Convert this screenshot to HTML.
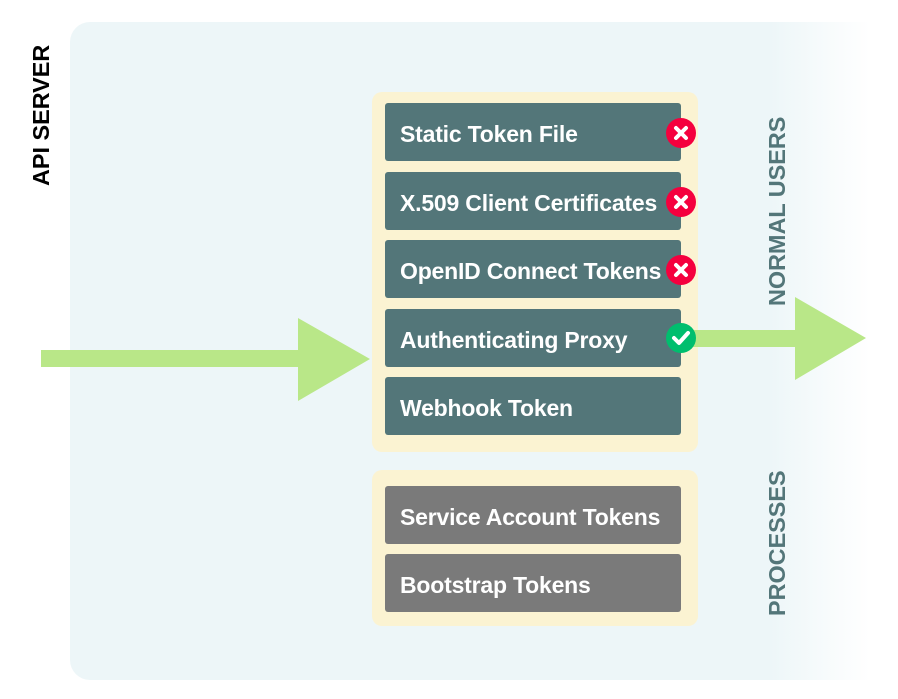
<!DOCTYPE html>
<html><head><meta charset="utf-8"><style>
html,body{margin:0;padding:0;background:#fff;}
body{width:898px;height:699px;position:relative;overflow:hidden;font-family:"Liberation Sans",sans-serif;}
.panel{position:absolute;left:70px;top:22px;width:828px;height:658px;border-radius:20px;background:linear-gradient(to right,#edf6f8 0,#edf6f8 700px,#ffffff 800px);}
.ybox{position:absolute;left:372px;width:326px;background:#fbf3d2;border-radius:10px;}
.b{position:absolute;left:385px;width:296px;height:58px;border-radius:3px;color:#fff;font-weight:bold;font-size:23px;letter-spacing:-0.2px;line-height:62px;text-indent:15px;white-space:nowrap;}
.t{background:#537679;}
.g{background:#7a7a7a;}
.vt{position:absolute;font-weight:bold;font-size:23.4px;white-space:nowrap;transform:rotate(-90deg);transform-origin:0 0;}
</style></head><body>
<div class="panel"></div>
<div class="ybox" style="top:92px;height:360px"></div>
<div class="ybox" style="top:470px;height:156px"></div>
<div class="b t" style="top:103px">Static Token File</div>
<div class="b t" style="top:172px">X.509 Client Certificates</div>
<div class="b t" style="top:240px">OpenID Connect Tokens</div>
<div class="b t" style="top:309px">Authenticating Proxy</div>
<div class="b t" style="top:377px">Webhook Token</div>
<div class="b g" style="top:486px">Service Account Tokens</div>
<div class="b g" style="top:554px">Bootstrap Tokens</div>
<svg width="898" height="699" style="position:absolute;left:0;top:0;z-index:2">
<polygon points="41,350 298,350 298,318 370,359 298,401 298,367 41,367" fill="#b9e788"/>
<polygon points="690,330 795,330 795,297 866,338 795,380 795,347 690,347" fill="#b9e788"/>
<g stroke="#fff" stroke-width="4" stroke-linecap="round">
<circle cx="681" cy="133" r="15" fill="#f5003e" stroke="none"/>
<path d="M676,128 L686,138 M686,128 L676,138"/>
<circle cx="681" cy="202" r="15" fill="#f5003e" stroke="none"/>
<path d="M676,197 L686,207 M686,197 L676,207"/>
<circle cx="681" cy="270" r="15" fill="#f5003e" stroke="none"/>
<path d="M676,265 L686,275 M686,265 L676,275"/>
<circle cx="681" cy="338" r="15" fill="#00be6e" stroke="none"/>
<path d="M674,338 L679,343 L688,333" fill="none" stroke-linejoin="round"/>
</g>
</svg>
<div class="vt" style="left:28px;top:186px;color:#000;">API SERVER</div>
<div class="vt" style="left:764px;top:306px;color:#537679;">NORMAL USERS</div>
<div class="vt" style="left:764px;top:616px;color:#537679;">PROCESSES</div>
</body></html>
